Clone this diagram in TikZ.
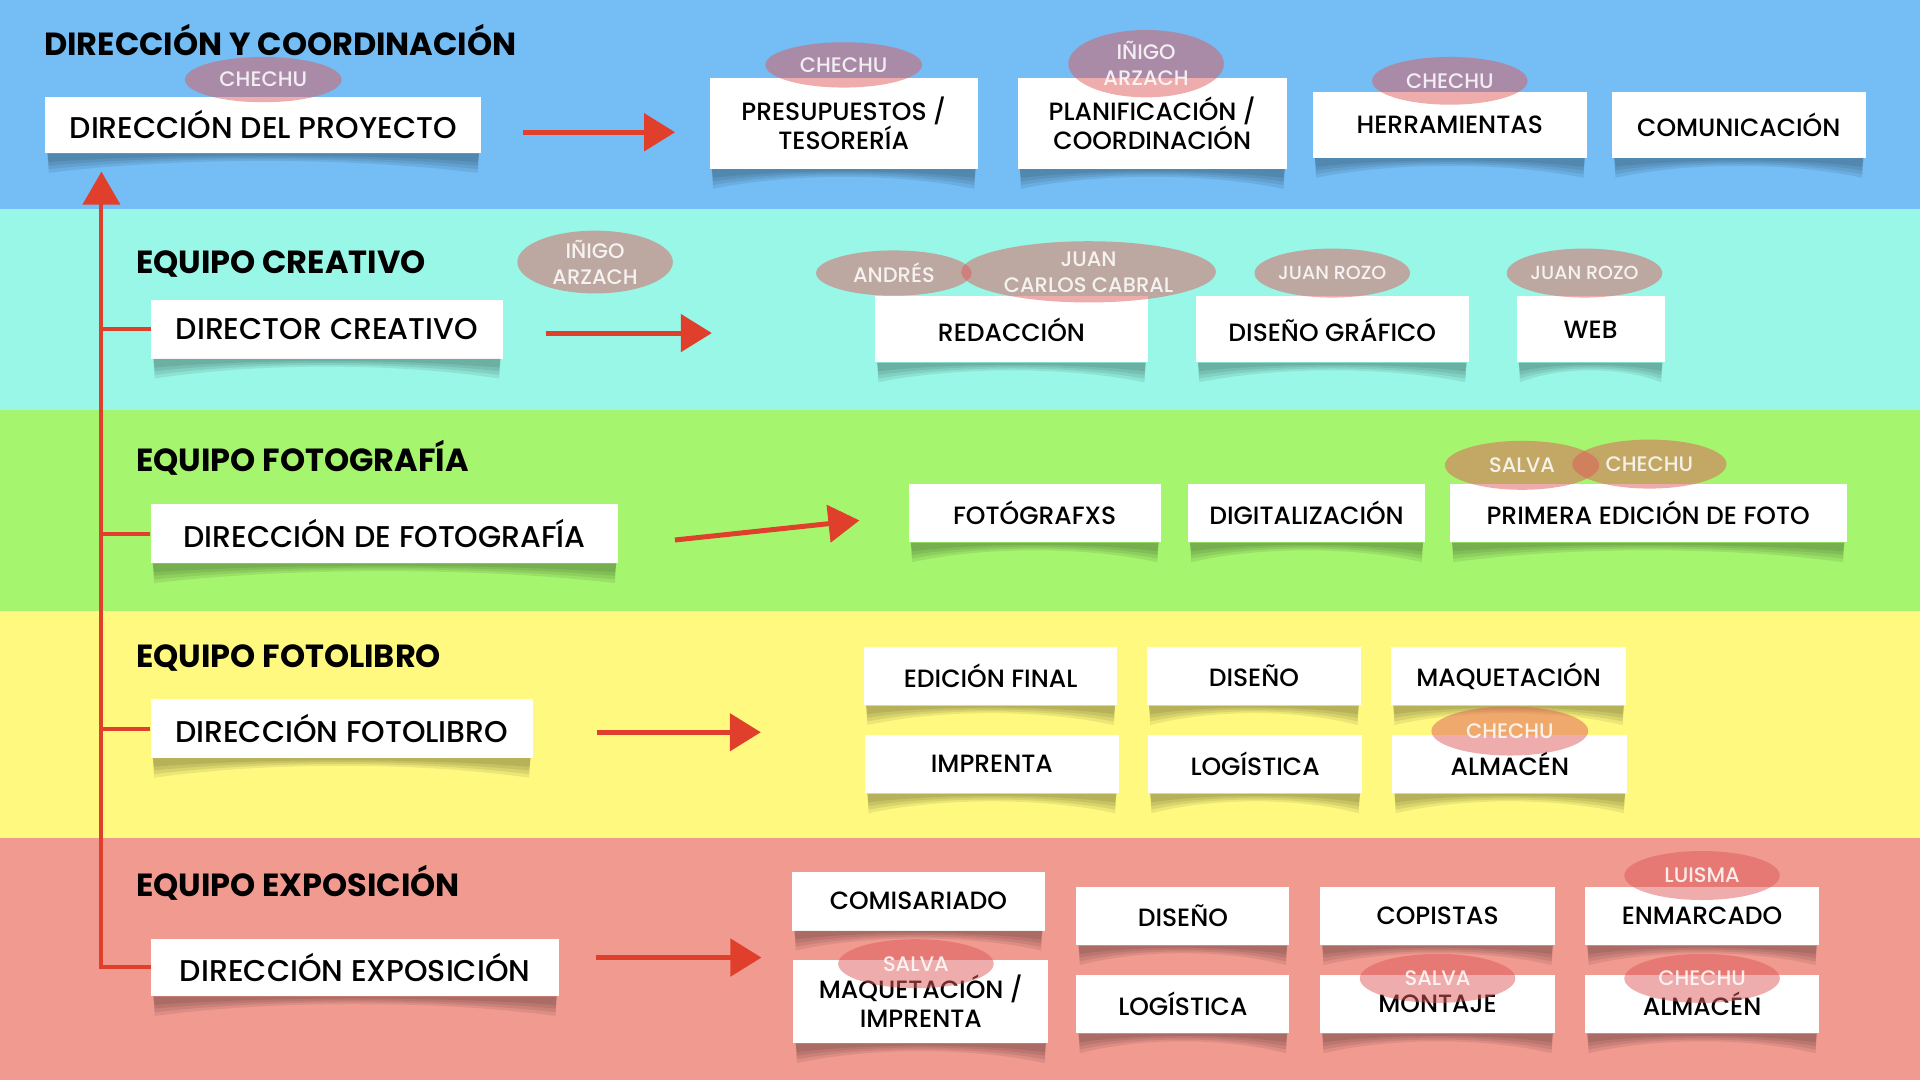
\documentclass[tikz,border=0pt]{standalone}
\usepackage{fontspec}
\setmainfont{Poppins}
\newfontfamily\cardfont{Poppins Medium}
\usetikzlibrary{arrows.meta,calc,positioning,shapes.geometric}
\definecolor{BandBlue}{HTML}{74BDF5}
\definecolor{BandCyan}{HTML}{98F7E7}
\definecolor{BandGreen}{HTML}{A6F56F}
\definecolor{BandYellow}{HTML}{FFFA7F}
\definecolor{BandPink}{HTML}{F09A90}
\definecolor{ArrowRed}{HTML}{E0402B}
\definecolor{TagRed}{HTML}{E05A5A}
\newcommand{\px}{1.2245pt}

\begin{document}
\begin{tikzpicture}[
        x=\px,y=-\px,
        wh/.style 2 args={minimum width=#1*\px,minimum height=#2*\px},
        card/.style={fill=white,inner sep=0pt,align=center,font=\cardfont\fontsize{25}{29}\selectfont},
        lead/.style={card,font=\cardfont\fontsize{30}{34}\selectfont},
        head/.style={anchor=base west,inner sep=0pt,font=\fontsize{32}{36}\selectfont\bfseries},
        tag/.style={ellipse,inner sep=0pt,fill=TagRed,fill opacity=0.5,text=white,text opacity=0.85,align=center,font=\cardfont\fontsize{21}{26}\selectfont},
        smalltag/.style={tag,font=\cardfont\fontsize{19}{24}\selectfont},
        arrow/.style={-{Triangle[length=31pt,width=37pt]},line width=5pt,draw=ArrowRed},
        spine/.style={line width=4pt,draw=ArrowRed},
        shade/.style={fill=black,fill opacity=0.08}
      ]
        \useasboundingbox (0,0) rectangle (1568,882);
        \foreach \c/\a/\b in {BandBlue/0/171,BandCyan/171/335,BandGreen/335/499,BandYellow/499/684,BandPink/684/882}
          \fill[\c] (0,\a) rectangle (1568,\b);

        % team titles
        \node[head] (hdir) at (36,45) {DIRECCIÓN Y COORDINACIÓN};
        \node[head] (hcrea) at (111,223) {EQUIPO CREATIVO};
        \node[head] (hfoto) at (111,385) {EQUIPO FOTOGRAFÍA};
        \node[head] (hlib) at (111,545) {EQUIPO FOTOLIBRO};
        \node[head] (hexp) at (111,732) {EQUIPO EXPOSICIÓN};

        % direction
        \node[lead,wh={356}{46}] (dproy) at (215,102) {DIRECCIÓN DEL PROYECTO};
        \node[card,wh={219}{74}] (pres) at (689,101) {PRESUPUESTOS /\\TESORERÍA};
        \node[card,wh={220}{74}] (plan) at (941,101) {PLANIFICACIÓN /\\COORDINACIÓN};
        \node[card,wh={224}{54}] (herr) at (1184,102) {HERRAMIENTAS};
        \node[card,wh={207}{54}] (comu) at (1420,102) {COMUNICACIÓN};

        % creative
        \node[lead,wh={287}{48}] (dcrea) at (267,269) {DIRECTOR CREATIVO};
        \node[card,wh={223}{54}] (reda) at (826,269) {REDACCIÓN};
        \node[card,wh={223}{54}] (disg) at (1088,269) {DISEÑO GRÁFICO};
        \node[card,wh={121}{54}] (web) at (1299,269) {WEB};

        % photography
        \node[lead,wh={382}{48}] (dfoto) at (314,436) {DIRECCIÓN DE FOTOGRAFÍA};
        \node[card,wh={206}{48}] (fotg) at (845,419) {FOTÓGRAFXS};
        \node[card,wh={194}{48}] (digi) at (1067,419) {DIGITALIZACIÓN};
        \node[card,wh={324}{48}] (prim) at (1346,419) {PRIMERA EDICIÓN DE FOTO};

        % photobook
        \node[lead,wh={312}{48}] (dlib) at (279,595) {DIRECCIÓN FOTOLIBRO};
        \node[card,wh={207}{48}] (edfin) at (809,552) {EDICIÓN FINAL};
        \node[card,wh={175}{48}] (dise) at (1024,552) {DISEÑO};
        \node[card,wh={192}{48}] (maqu) at (1232,552) {MAQUETACIÓN};
        \node[card,wh={207}{48}] (impr) at (810,624) {IMPRENTA};
        \node[card,wh={175}{48}] (logi) at (1025,624) {LOGÍSTICA};
        \node[card,wh={192}{48}] (alma) at (1233,624) {ALMACÉN};

        % exhibition
        \node[lead,wh={333}{47}] (dexp) at (290,790) {DIRECCIÓN EXPOSICIÓN};
        \node[card,wh={206}{48}] (comi) at (750,736) {COMISARIADO};
        \node[card,wh={208}{68}] (maqimp) at (752,818) {MAQUETACIÓN /\\IMPRENTA};
        \node[card,wh={174}{48}] (disx) at (966,748) {DISEÑO};
        \node[card,wh={174}{48}] (logx) at (966,820) {LOGÍSTICA};
        \node[card,wh={192}{48}] (copi) at (1174,748) {COPISTAS};
        \node[card,wh={192}{48}] (mont) at (1174,820) {MONTAJE};
        \node[card,wh={191}{48}] (enma) at (1390,748) {ENMARCADO};
        \node[card,wh={191}{48}] (almx) at (1390,820) {ALMACÉN};

        % curled shadows under the cards, a few soft layers
        \foreach \n in {dproy,pres,plan,herr,comu,dcrea,reda,disg,web,dfoto,fotg,digi,prim,dlib,edfin,dise,maqu,impr,logi,alma,dexp,comi,maqimp,disx,logx,copi,mont,enma,almx}
          \foreach \d/\m in {16/3,13/2,10/1,7/0}
            \fill[shade] ($(\n.south west)+(2,0)$) -- ($(\n.south west)+(3,\d)$)
              .. controls ($(\n.south west)!0.3!(\n.south east)+(0,\m)$) and ($(\n.south west)!0.7!(\n.south east)+(0,\m)$) .. ($(\n.south east)+(-3,\d)$)
              -- ($(\n.south east)+(-2,0)$) -- cycle;

        % people
        \node[tag,wh={128}{37}] (tproy) at (215,65) {CHECHU};
        \node[tag,wh={128}{37}] (tpres) at (689,53) {CHECHU};
        \node[tag,wh={127}{55}] (tplan) at (936,52) {IÑIGO\\ARZACH};
        \node[tag,wh={127}{39}] (therr) at (1184,66) {CHECHU};
        \node[tag,wh={127}{50}] (tcrea) at (486,214) {IÑIGO\\ARZACH};
        \node[tag,wh={127}{37}] (tandr) at (730,223) {ANDRÉS};
        \node[tag,wh={208}{50}] (tjcc) at (889,222) {JUAN\\CARLOS CABRAL};
        \node[smalltag,wh={127}{40}] (tjra) at (1088,223) {JUAN ROZO};
        \node[smalltag,wh={127}{40}] (tjrb) at (1294,223) {JUAN ROZO};
        \node[tag,wh={126}{40}] (tsalf) at (1243,380) {SALVA};
        \node[tag,wh={126}{40}] (tchef) at (1347,379) {CHECHU};
        \node[tag,wh={128}{40}] (tchel) at (1233,597) {CHECHU};
        \node[tag,wh={127}{40}] (tsalm) at (748,787) {SALVA};
        \node[tag,wh={127}{40}] (tsalx) at (1174,799) {SALVA};
        \node[tag,wh={127}{40}] (tchex) at (1390,799) {CHECHU};
        \node[tag,wh={127}{40}] (tlui) at (1390,715) {LUISMA};

        % arrows
        \draw[arrow] ($(dproy.east)+(34,6)$) -- ($(pres.west)+(-28,7)$);
        \draw[arrow] ($(dcrea.east)+(35,3)$) -- ($(reda.west)+(-133,3)$);
        \draw[arrow] ($(dfoto.east)+(46,5)$) -- ($(fotg.west)+(-40,6)$);
        \draw[arrow] ($(dlib.east)+(52,3)$) -- ($(impr.west)+(-85,-26)$);
        \draw[arrow] ($(dexp.east)+(30,-8)$) -- ($(comi.west)+(-25,46)$);

        \coordinate (spinetop) at ($(dproy.south west)+(46,15)$);
        \draw[spine,-{Triangle[length=33pt,width=37pt]}] (dexp.west) -| (spinetop);
        \foreach \n in {dcrea,dfoto,dlib}
          \draw[spine] (\n.west) -- (\n.west -| spinetop);
      \end{tikzpicture}
\end{document}
